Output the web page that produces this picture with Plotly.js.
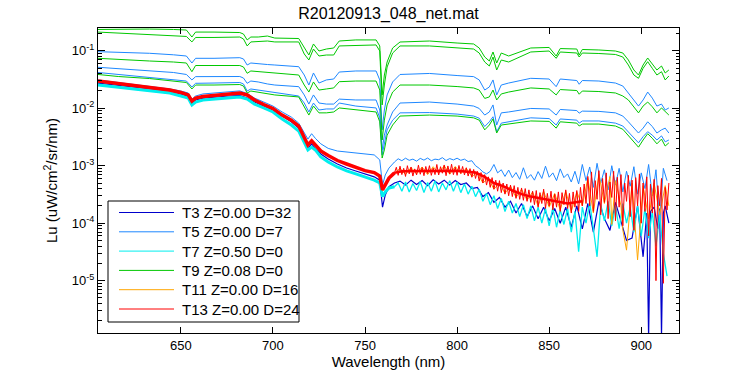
<!DOCTYPE html>
<html><head><meta charset="utf-8">
<script src="https://cdn.plot.ly/plotly-3.0.1.min.js"></script>
<style>html,body{margin:0;padding:0;background:#fff}#chart{width:750px;height:375px}</style>
</head><body><div id="chart"></div>
<script>
// ---- upper spectra (T5 / T9 casts) ----
const wlUp = [605,616,633,646,653,656,658,668,682,684,686,688,692,697,701,714,717,719.5,722,725,729,733,736,745,756,758,759.3,760.5,762,765,769,785,800,809,812,815,817.5,819.5,821.5,824,828,840,850,853.8,856,865,866.3,868,877,886,890,893,896,898.5,901,903.5,906,908.5,911,913,915];
const t9a = [0.234,0.238,0.238,0.234,0.229,0.173,0.211,0.211,0.207,0.195,0.154,0.173,0.173,0.180,0.166,0.163,0.116,0.0842,0.131,0.0988,0.107,0.1115,0.1475,0.154,0.154,0.121,0.0170,0.0378,0.0636,0.1115,0.1417,0.1475,0.136,0.131,0.1115,0.0777,0.0662,0.0950,0.0611,0.0912,0.0809,0.1115,0.114,0.0809,0.109,0.107,0.0842,0.105,0.103,0.0988,0.0912,0.0689,0.0462,0.0378,0.0564,0.0747,0.0587,0.0462,0.0542,0.0410,0.0462];
const t9b = [0.211,0.203,0.195,0.184,0.177,0.142,0.170,0.170,0.173,0.160,0.121,0.142,0.144,0.1475,0.142,0.142,0.0877,0.0689,0.107,0.0809,0.0842,0.0842,0.121,0.123,0.126,0.0988,0.0114,0.0253,0.0521,0.0912,0.121,0.121,0.114,0.107,0.0912,0.0636,0.0542,0.0777,0.0462,0.0689,0.0636,0.0950,0.0988,0.0738,0.0950,0.0912,0.0777,0.0912,0.0894,0.0860,0.0777,0.0564,0.0378,0.0331,0.0494,0.0644,0.0494,0.0378,0.0431,0.0310,0.0363];
const t9c = [0.0738,0.0703,0.0662,0.0636,0.0611,0.0431,0.0553,0.0553,0.0553,0.0521,0.0405,0.0444,0.0435,0.0418,0.0410,0.0378,0.0253,0.0191,0.0286,0.0207,0.0216,0.0225,0.0289,0.0297,0.0297,0.0207,0.0028,0.0062,0.0114,0.0191,0.0253,0.0253,0.0238,0.0225,0.0207,0.0148,0.0157,0.0207,0.0139,0.0177,0.0191,0.0225,0.0216,0.0170,0.0211,0.0203,0.0175,0.0199,0.0195,0.0184,0.0163,0.0139,0.0105,0.0083,0.0109,0.0128,0.0106,0.0083,0.0101,0.0086,0.0076];
const t9d = [0.0386,0.0356,0.0328,0.0297,0.0280,0.0216,0.0253,0.0253,0.0258,0.0243,0.0184,0.0199,0.0188,0.0177,0.0170,0.0157,0.0109,0.0076,0.0109,0.0083,0.0083,0.0086,0.0101,0.0093,0.0086,0.0058,0.00136,0.00188,0.0034,0.0051,0.0073,0.0076,0.0073,0.0068,0.0062,0.0042,0.0051,0.0065,0.0037,0.0051,0.0053,0.0060,0.0059,0.0045,0.0058,0.0055,0.0049,0.0053,0.0053,0.0049,0.0043,0.0033,0.0026,0.0021,0.0028,0.0036,0.0030,0.0024,0.0029,0.0022,0.0025];
const t5a = [0.0962,0.0939,0.0902,0.0849,0.0809,0.0611,0.0738,0.0738,0.0756,0.0718,0.0564,0.0611,0.0587,0.0575,0.0564,0.0527,0.0378,0.0253,0.0410,0.0274,0.0310,0.0322,0.0426,0.0444,0.0444,0.0310,0.0042,0.0093,0.0170,0.0286,0.0386,0.0402,0.0370,0.0354,0.0310,0.0207,0.0234,0.0310,0.0170,0.0253,0.0274,0.0331,0.0322,0.0237,0.0322,0.0303,0.0261,0.0303,0.0297,0.0274,0.0243,0.0184,0.0139,0.0109,0.0139,0.0191,0.0150,0.0109,0.0118,0.0093,0.0101];
const t5b = [0.0515,0.0490,0.0453,0.0418,0.0386,0.0310,0.0354,0.0354,0.0356,0.0335,0.0271,0.0297,0.0286,0.0264,0.0253,0.0237,0.0170,0.0118,0.0170,0.0123,0.0118,0.0118,0.0144,0.0139,0.0139,0.0093,0.00188,0.0034,0.0051,0.0086,0.0123,0.0128,0.0118,0.0109,0.0099,0.0076,0.0086,0.0114,0.0051,0.0083,0.0086,0.0099,0.0097,0.0076,0.0095,0.0091,0.0082,0.0089,0.0088,0.0083,0.0073,0.0058,0.0045,0.0037,0.0045,0.0058,0.0048,0.0037,0.0042,0.0045,0.0037];
const t5c = [0.0418,0.0386,0.0349,0.0316,0.0297,0.0234,0.0271,0.0274,0.0280,0.0264,0.0199,0.0216,0.0207,0.0191,0.0184,0.0163,0.0123,0.0086,0.0123,0.0093,0.0097,0.0097,0.0123,0.0109,0.0101,0.0068,0.00154,0.0023,0.0042,0.0062,0.0083,0.0084,0.0079,0.0073,0.0067,0.0048,0.0058,0.0071,0.0039,0.0055,0.0058,0.0068,0.0066,0.0051,0.0065,0.0062,0.0055,0.0060,0.0060,0.0055,0.0049,0.0039,0.0030,0.0025,0.0032,0.0039,0.0034,0.0028,0.0033,0.0026,0.0028];

// ---- lower spectra, smooth part ----
const wlLow = [605,612,620,628,636,644,650,654,656,658,662,668,676,682,686,690,695,700,705,710,714,717,719,721,723,726,730,735,740,745,750,755,758,759.5,761,763,766];
const t13s = [0.0297,0.0280,0.0258,0.0238,0.0225,0.0207,0.0188,0.0170,0.0133,0.0150,0.0160,0.0166,0.0173,0.0184,0.0170,0.0139,0.0116,0.0099,0.0076,0.0062,0.0049,0.0032,0.0023,0.0027,0.0023,0.0018,0.00151,0.00123,0.00107,0.00095,0.00082,0.00076,0.00066,0.00038,0.00048,0.00061,0.00075];
const t11s = [0.0290,0.0275,0.0253,0.0233,0.0220,0.0203,0.0185,0.0167,0.0131,0.0147,0.0157,0.0163,0.0170,0.0180,0.0167,0.0136,0.0114,0.0097,0.0075,0.0061,0.0048,0.0031,0.00225,0.00265,0.00225,0.00176,0.00148,0.00121,0.00105,0.00093,0.00080,0.00074,0.00065,0.00037,0.00047,0.00060,0.00074];
const t7s = [0.0253,0.0238,0.0225,0.0211,0.0199,0.0184,0.0163,0.0150,0.0114,0.0128,0.0139,0.0144,0.0150,0.0157,0.0144,0.0118,0.0101,0.0086,0.0065,0.0051,0.0040,0.0025,0.00188,0.0021,0.00188,0.00142,0.00116,0.00095,0.00081,0.00072,0.00064,0.00056,0.00050,0.00029,0.00035,0.00041,0.00043];
const t3s = [0.0274,0.0258,0.0243,0.0229,0.0216,0.0199,0.0177,0.0160,0.0123,0.0139,0.0150,0.0157,0.0163,0.0166,0.0150,0.0128,0.0109,0.0093,0.0073,0.0058,0.0045,0.0028,0.0020,0.0024,0.0020,0.0016,0.00131,0.00107,0.00091,0.00081,0.00072,0.00064,0.00056,0.00019,0.00031,0.00043,0.00050];
const t5s = [0.0310,0.0292,0.0269,0.0248,0.0234,0.0216,0.0199,0.0184,0.0144,0.0163,0.0177,0.0184,0.0191,0.0200,0.0180,0.0150,0.0128,0.0109,0.0086,0.0070,0.0055,0.0037,0.0029,0.0036,0.0030,0.0024,0.0020,0.0018,0.00173,0.00167,0.00160,0.00154,0.00126,0.00046,0.00069,0.00091,0.00116];

// ---- T13 band centre through the moderately noisy region ----
const wlMid = [766,770,780,790,800,810,815,820,825,830,835,840,850,860,868];
const t13m = [7.5e-4,8.0e-4,8.1e-4,8.2e-4,8.2e-4,7.6e-4,6.4e-4,5.0e-4,4.4e-4,3.7e-4,3.2e-4,2.9e-4,2.5e-4,2.2e-4,2.4e-4];

// ---- lower spectra, noisy part ----
const wlN1 = [767,768,769,770,771,772,773,774,775,776,777,778,779,780,781,782,783,784,785,786,787,788,789,790,791,792,793,794,795,796,797,798,799,800,801,802,803,804,805,806,807,808,809,810,811,812,813,814,815,816,817,818,819,820,821,822,823,824,825,826,827,828,829,830,831,832,833,834,835,836,837,838,839,840,841,842,843,844,845,846,847,848,849,850,851,852,853,854,855,856,857,858,859,860,861,862,863,864,865,866,867,868,869,870,871,872,873,874,875,876,877,878,879,880,881,882,883,884,885,886,887,888,889,890,891,892,893,894,895,896,897,898,899,900,901,902,903,904,905,906,907,908,909,910,911,912,913,914,915];
const t13n = [9.4e-4,6.8e-4,9.8e-4,7.0e-4,9.0e-4,6.5e-4,1.0e-3,7.2e-4,9.5e-4,6.6e-4,8.8e-4,6.9e-4,1.02e-3,7.1e-4,9.3e-4,6.7e-4,9.7e-4,7.3e-4,1.0e-3,6.8e-4,9.1e-4,7.0e-4,1.05e-3,6.9e-4,9.6e-4,7.4e-4,1.03e-3,6.7e-4,9.9e-4,7.2e-4,1.06e-3,7.0e-4,9.4e-4,6.8e-4,1.01e-3,7.3e-4,9.7e-4,6.9e-4,9.2e-4,6.6e-4,8.9e-4,6.3e-4,8.6e-4,6.0e-4,8.0e-4,5.4e-4,
7.6e-4,5.0e-4,7.0e-4,4.6e-4,6.4e-4,4.2e-4,6.2e-4,3.9e-4,5.6e-4,3.6e-4,5.5e-4,3.4e-4,5.0e-4,3.2e-4,4.8e-4,3.0e-4,4.6e-4,2.9e-4,4.5e-4,2.7e-4,4.2e-4,2.6e-4,4.1e-4,2.5e-4,4.0e-4,2.4e-4,3.8e-4,2.3e-4,
3.6e-4,2.1e-4,3.7e-4,1.9e-4,3.4e-4,2.2e-4,3.9e-4,1.8e-4,3.3e-4,2.0e-4,3.6e-4,1.7e-4,3.2e-4,1.9e-4,3.5e-4,1.6e-4,3.4e-4,2.1e-4,3.8e-4,1.8e-4,3.3e-4,1.5e-4,3.5e-4,1.9e-4,3.7e-4,1.6e-4,4.2e-4,2.0e-4,4.8e-4,2.2e-4,
6.5e-4,2.0e-4,7.8e-4,1.6e-4,5.5e-4,2.6e-4,8.2e-4,1.4e-4,6.0e-4,2.3e-4,7.5e-4,1.2e-4,5.2e-4,2.8e-4,8.0e-4,1.1e-4,6.3e-4,1.9e-4,7.0e-4,9.0e-5,5.0e-4,2.4e-4,6.8e-4,1.3e-4,5.6e-4,7.5e-5,6.2e-4,2.0e-4,7.2e-4,1.0e-4,5.0e-4,1.6e-4,6.4e-4,6.0e-5,4.8e-4,1.5e-4,5.8e-4,1.0e-5,4.5e-4,2.0e-4,6.0e-4,9.0e-6,4.2e-4,1.7e-4,5.0e-4];
const wlN2 = [768,770,772,774,776,778,780,782,784,786,788,790,792,794,796,798,800,802,804,806,808,810,812,814,816,818,820,822,824,826,828,830,832,834,836,838,840,842,844,846,848,850,852,854,856,858,860,862,864,866,868,870,872,874,876,878,880,882,884,886,888,890,892,894,896,898,900,902,904,906,908,910,912,914];
const t7n = [5.0e-4,3.6e-4,5.2e-4,3.5e-4,4.9e-4,3.7e-4,5.3e-4,3.4e-4,5.1e-4,3.6e-4,5.4e-4,3.5e-4,5.0e-4,3.8e-4,5.5e-4,3.6e-4,5.2e-4,3.4e-4,4.8e-4,3.2e-4,4.4e-4,2.9e-4,3.9e-4,2.4e-4,3.3e-4,2.1e-4,3.0e-4,1.8e-4,2.7e-4,1.6e-4,2.4e-4,1.5e-4,2.2e-4,1.3e-4,2.1e-4,1.2e-4,2.0e-4,1.1e-4,1.9e-4,1.0e-4,1.8e-4,9.0e-5,1.9e-4,8.5e-5,1.7e-4,9.5e-5,1.8e-4,7.0e-5,1.6e-4,3.2e-5,1.9e-4,1.0e-4,2.3e-4,8.0e-5,2.6e-5,2.1e-4,1.1e-4,2.4e-4,9.0e-5,2.0e-4,8.0e-5,2.2e-4,1.0e-4,1.9e-4,7.0e-5,2.0e-4,6.0e-5,1.8e-4,5.5e-5,1.6e-4,4.0e-5,1.4e-4,3.0e-5,1.2e-5];
const t5n = [1.32e-3,1.22e-3,1.35e-3,1.24e-3,1.30e-3,1.20e-3,1.34e-3,1.25e-3,1.36e-3,1.22e-3,1.30e-3,1.27e-3,1.38e-3,1.23e-3,1.33e-3,1.26e-3,1.35e-3,1.24e-3,1.30e-3,1.18e-3,1.22e-3,1.00e-3,9.0e-4,7.8e-4,7.2e-4,8.0e-4,1.05e-3,7.5e-4,8.5e-4,6.5e-4,8.4e-4,6.2e-4,7.6e-4,5.8e-4,9.2e-4,6.0e-4,7.0e-4,5.6e-4,7.9e-4,6.0e-4,9.8e-4,6.3e-4,7.5e-4,5.5e-4,8.8e-4,6.2e-4,7.2e-4,5.2e-4,8.0e-4,4.8e-4,1.05e-3,5.5e-4,9.5e-4,4.2e-4,1.1e-3,5.0e-4,8.5e-4,3.8e-4,1.0e-3,4.6e-4,9.0e-4,3.5e-4,8.0e-4,4.4e-4,9.6e-4,3.2e-4,7.5e-4,4.0e-4,1.05e-3,3.0e-4,8.5e-4,1.1e-4,9.0e-4,5.5e-4];
const wlN3 = [769,772,775,778,781,784,787,790,793,796,799,802,805,808,811,814,817,820,823,826,829,832,835,838,841,844,847,850,853,856,859,862,865,868,871,874,877,880,883,886,889,892,895,898,901,903,904,905,907,909,910,911,912,913,915];
const t3n = [5.4e-4,4.6e-4,5.6e-4,4.7e-4,5.5e-4,4.5e-4,5.7e-4,4.8e-4,5.6e-4,4.6e-4,5.5e-4,4.7e-4,5.0e-4,4.0e-4,4.2e-4,2.9e-4,3.4e-4,2.3e-4,2.8e-4,1.9e-4,2.4e-4,1.5e-4,2.2e-4,1.3e-4,2.0e-4,1.2e-4,1.9e-4,1.1e-4,1.8e-4,1.0e-4,1.9e-4,8.5e-5,2.0e-4,8.0e-5,2.2e-4,7.0e-5,2.4e-4,1.2e-4,7.5e-5,2.3e-4,1.1e-4,5.0e-5,5.5e-5,2.0e-4,2.6e-5,1.5e-4,1.0e-6,1.6e-4,1.9e-4,8.0e-5,1.8e-4,1.1e-6,1.5e-4,2.0e-4,1.0e-4];
const wlN4 = [769,772,775,778,781,784,787,790,793,796,799,802,805,808,811,814,817,820,823,826,829,832,835,838,841,844,847,850,853,856,859,862,865,868,871,874,877,880,883,884,886,889,890,892,895,898,901,904,907,910,913,915];
const t11n = [9.0e-4,7.0e-4,9.3e-4,7.2e-4,9.5e-4,7.0e-4,9.6e-4,7.4e-4,1.0e-3,7.1e-4,9.7e-4,7.3e-4,9.0e-4,6.5e-4,7.5e-4,5.0e-4,6.0e-4,3.9e-4,5.0e-4,3.3e-4,4.4e-4,2.8e-4,3.9e-4,2.5e-4,3.5e-4,2.0e-4,3.6e-4,1.9e-4,3.3e-4,1.7e-4,3.6e-4,1.6e-4,3.5e-4,2.0e-4,6.0e-4,1.5e-4,7.0e-4,2.2e-4,6.5e-4,9.5e-5,5.5e-4,2.0e-4,7.6e-5,3.4e-5,5.0e-4,2.3e-5,4.5e-4,1.2e-4,5.0e-4,1.4e-4,4.5e-4,2.0e-4];

const names = ['T3 Z=0.00 D=32','T5 Z=0.00 D=7','T7 Z=0.50 D=0','T9 Z=0.08 D=0','T11 Z=0.00 D=16','T13 Z=0.00 D=24'];
const colors = ['#0000CC','#1E88FF','#00EEEE','#00C800','#FFA500','#FF0000'];
const yTickVals = [1e-5,1e-4,1e-3,1e-2,1e-1];
const yTickText = ['10<sup>-5</sup>','10<sup>-4</sup>','10<sup>-3</sup>','10<sup>-2</sup>','10<sup>-1</sup>'];
const xTickVals = [650,700,750,800,850,900];

function tr(x, y, ci, w){
  return {type:'scatter', mode:'lines', x:x, y:y, name:names[ci], showlegend:false,
          line:{color:colors[ci], width:w}, hoverinfo:'skip'};
}
const data = [
  tr(wlLow.concat(wlN3), t3s.concat(t3n), 0, 1.2),
  tr(wlLow.concat(wlN2), t5s.concat(t5n), 1, 1),
  tr(wlUp, t5a, 1, 1),
  tr(wlUp, t5b, 1, 1),
  tr(wlUp, t5c, 1, 1),
  tr(wlLow, t7s, 2, 3),
  tr(wlLow.concat(wlN2), t7s.concat(t7n), 2, 1.3),
  tr(wlUp, t9a, 3, 1),
  tr(wlUp, t9b, 3, 1),
  tr(wlUp, t9c, 3, 1),
  tr(wlUp, t9d, 3, 1),
  tr(wlLow.concat(wlN4), t11s.concat(t11n), 4, 1),
  tr(wlLow, t13s, 5, 3.5),
  tr(wlMid, t13m, 5, 2.5),
  tr(wlLow.concat(wlN1), t13s.concat(t13n), 5, 1)
];

const minorVals = [];
for (let d = -6; d <= -1; d++) for (let k = 2; k <= 9; k++) minorVals.push(k * Math.pow(10, d));

// legend box drawn in plot-area (paper) fractions, MATLAB style
const PL = 98, PW = 581, PT = 28, PH = 305;
const px = v => (v - PL) / PW;
const py = v => (PT + PH - v) / PH;
const legRows = [212.5, 231.8, 251.1, 270.4, 289.7, 309];
const shapes = [{type:'rect', xref:'paper', yref:'paper', x0:px(108), x1:px(299), y0:py(322), y1:py(201),
  fillcolor:'#fff', line:{color:'#000', width:1}, layer:'above'}];
const annotations = [];
legRows.forEach((r, i) => {
  shapes.push({type:'line', xref:'paper', yref:'paper', x0:px(119), x1:px(174), y0:py(r), y1:py(r),
    line:{color:colors[i], width:1}, layer:'above'});
  annotations.push({xref:'paper', yref:'paper', x:px(180), y:py(r), xanchor:'left', yanchor:'middle',
    text:names[i], showarrow:false, font:{size:15, color:'#000'}});
});

const axisCommon = {showline:true, linecolor:'#000', linewidth:1, mirror:'ticks', ticks:'inside',
  tickcolor:'#000', showgrid:false, zeroline:false, tickfont:{size:13, color:'#000'}};

const layout = {
  width:750, height:375,
  margin:{l:98, r:71, t:28, b:42},
  paper_bgcolor:'#fff', plot_bgcolor:'#fff',
  font:{family:'"Liberation Sans", Arial, sans-serif', size:13, color:'#000'},
  title:{text:'R20120913_048_net.mat', font:{size:16, color:'#000'}, x:0.5, xref:'paper', xanchor:'center', y:0.965, yref:'container', yanchor:'middle'},
  xaxis:Object.assign({}, axisCommon, {range:[605,920.5], tickmode:'array', tickvals:xTickVals, ticklen:6,
    title:{text:'Wavelength (nm)', font:{size:15}, standoff:4}}),
  yaxis:Object.assign({}, axisCommon, {type:'log', range:[-5.91,-0.605], tickmode:'array', tickvals:yTickVals, ticktext:yTickText, ticklen:7,
    minor:{tickmode:'array', tickvals:minorVals, ticks:'inside', ticklen:3.5, tickcolor:'#000'},
    title:{text:'Lu (uW/cm<sup>2</sup>/sr/nm)', font:{size:15}, standoff:10}}),
  shapes:shapes,
  annotations:annotations,
  showlegend:false
};
Plotly.newPlot('chart', data, layout, {staticPlot:true, displayModeBar:false});
</script>
</body></html>
